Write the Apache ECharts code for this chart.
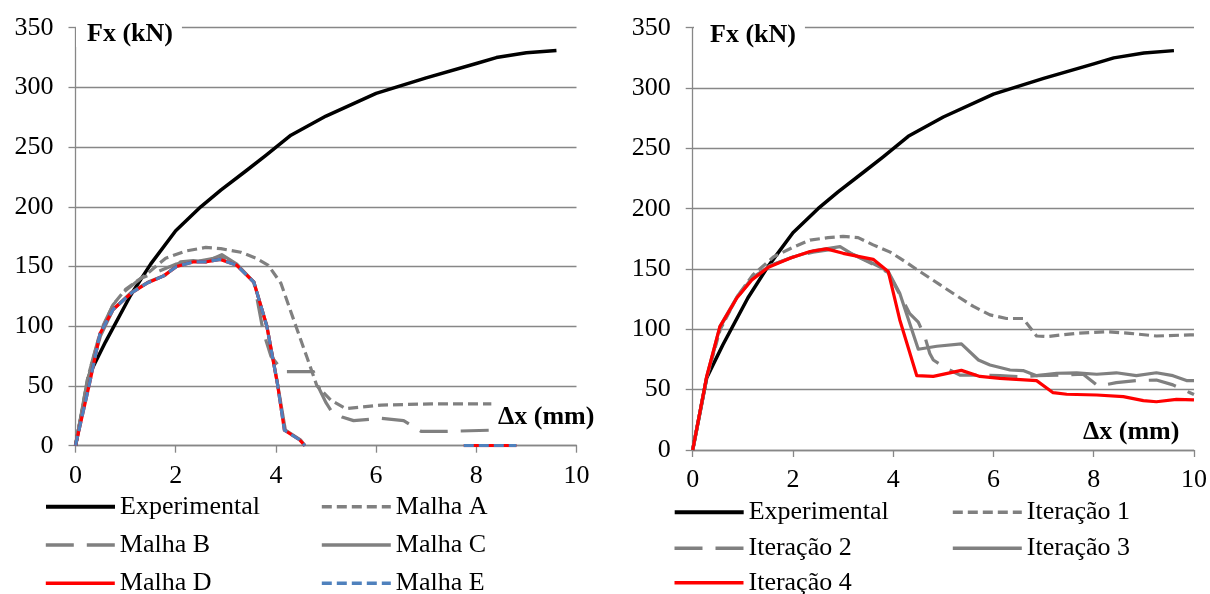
<!DOCTYPE html>
<html>
<head>
<meta charset="utf-8">
<style>html,body{margin:0;padding:0;background:#fff}#c{width:1210px;height:594px}</style>
<script src="https://cdn.jsdelivr.net/npm/echarts@6/dist/echarts.min.js"></script>
</head>
<body>
<div id="c"></div>
<script>
// ---- data ----
const xTicks = [0, 2, 4, 6, 8, 10];
const yTicks = [0, 50, 100, 150, 200, 250, 300, 350];

const expX = [0, 0.28, 0.6, 1.1, 1.5, 2.0, 2.5, 2.9, 3.4, 3.8, 4.3, 5.0, 6.0, 7.0, 8.0, 8.4, 9.0, 9.6];
const expY = [0, 60, 87, 126, 152, 180, 200, 214, 230, 243, 260, 276, 295, 308, 320, 325, 329, 331];

const malhaAX = [0, 0.25, 0.5, 0.75, 1.0, 1.4, 1.8, 2.2, 2.6, 2.9, 3.3, 3.6, 3.85, 4.1, 4.4, 4.62, 4.82, 5.1, 5.4, 6.1, 7.1, 8.3];
const malhaAY = [0, 58, 95, 118, 131, 143, 157, 163, 166, 165, 162, 157, 151, 136, 100, 74, 50, 38, 31, 34, 35, 35];

const malhaBX = [0, 0.25, 0.5, 0.75, 1.0, 1.3, 1.6, 2.0, 2.4, 2.9, 3.2, 3.56, 3.75, 3.9, 4.15, 4.75, 4.85, 5.0, 5.12, 5.32, 5.55, 6.1, 6.55, 6.9, 7.4, 8.3];
const malhaBY = [0, 58, 96, 118, 130, 140, 145, 152, 154, 158, 152, 137, 95, 75, 62, 62, 49, 36, 28, 24, 21, 23, 21, 12, 12, 13];

const malhaCX = [0, 0.25, 0.5, 0.75, 1.1, 1.45, 1.8, 2.1, 2.35, 2.6, 2.92, 3.22, 3.56, 3.82, 4.02, 4.19, 4.49, 4.58];
const malhaCY = [0, 56, 92, 114, 128, 137, 143, 154, 155, 154, 160, 152, 137, 100, 55, 13, 5, 0];

const malhaDX = [0, 0.29, 0.49, 0.75, 1.12, 1.42, 1.75, 2.02, 2.36, 2.62, 2.89, 3.22, 3.56, 3.82, 4.03, 4.17, 4.47, 4.58, 6.0, 7.75, 8.8];
const malhaDY = [0, 54, 94, 114, 128, 136, 142, 150, 154, 154, 156, 151, 137, 100, 52, 13, 5, 0, null, 0, 0];

const malhaEX = [0, 0.29, 0.49, 0.75, 1.12, 1.42, 1.75, 2.02, 2.36, 2.62, 2.89, 3.22, 3.56, 3.82, 4.03, 4.17, 4.47, 4.58, 6.0, 7.75, 8.8];
const malhaEY = [0, 54, 94, 114, 128, 136, 142, 150, 154, 154, 156, 151, 137, 100, 52, 13, 5, 0, null, 0, 0];

const iter1X = [0, 0.28, 0.55, 0.9, 1.2, 1.61, 2.0, 2.34, 2.7, 3.0, 3.3, 3.6, 3.94, 4.13, 4.53, 4.93, 5.26, 5.6, 5.93, 6.26, 6.59, 6.86, 7.06, 7.66, 8.25, 8.72, 9.25, 9.92, 10];
const iter1Y = [0, 60, 100, 128, 145, 160, 168, 174, 176, 177, 176, 170, 164, 159, 148, 137, 128, 119, 112, 109, 109, 94.5, 94, 96.7, 98, 96.7, 94.5, 95.4, 95.4];

const iter2X = [0, 0.28, 0.55, 0.9, 1.2, 1.55, 2.0, 2.4, 2.9, 3.2, 3.55, 3.9, 4.33, 4.5, 4.63, 4.73, 4.8, 5.06, 5.33, 5.66, 6.13, 6.53, 6.86, 7.32, 7.79, 8.09, 8.45, 8.85, 9.25, 9.58, 9.92, 10];
const iter2Y = [0, 60, 102, 127, 143, 153, 160, 164, 167, 162, 155, 147, 113, 106, 94, 80, 74.6, 67.7, 62, 62, 61.6, 60.8, 61.6, 62, 62.8, 53, 55.8, 57.5, 58, 54, 47.5, 46];

const iter3X = [0, 0.28, 0.55, 0.9, 1.2, 1.55, 2.0, 2.4, 2.94, 3.2, 3.53, 3.9, 4.13, 4.5, 4.87, 5.36, 5.7, 5.93, 6.33, 6.59, 6.86, 7.26, 7.66, 8.06, 8.45, 8.85, 9.25, 9.58, 9.85, 10];
const iter3Y = [0, 61, 103, 128, 143, 153, 160, 165, 168.6, 162, 156, 148, 130, 83.5, 86, 88, 74.6, 70.5, 66.3, 65.8, 61.6, 63.6, 64, 62.8, 64, 61.6, 64, 61.6, 57.5, 57.5];

const iter4X = [0, 0.28, 0.54, 0.88, 1.18, 1.51, 1.94, 2.34, 2.67, 3.0, 3.6, 3.9, 4.13, 4.47, 4.8, 5.36, 5.73, 6.13, 6.86, 7.19, 7.46, 8.06, 8.59, 8.99, 9.25, 9.65, 10];
const iter4Y = [0, 61, 102, 126, 141, 151.5, 159, 164.5, 166.7, 163, 158, 148, 108, 61.6, 61, 66, 61, 59.4, 57.5, 47.5, 46.2, 45.6, 44.2, 40.9, 40, 42, 41.5];

// ---- build ----
const zip = (xs, ys) => xs.map((x, i) => [x, ys[i] === null ? '-' : ys[i]]);
const FONT = "'Liberation Serif', 'Times New Roman', serif";
const GRAY = '#878787';
const LINEGRAY = '#808080';

function mkX(gi) {
  return {
    type: 'value', gridIndex: gi, min: xTicks[0], max: xTicks[xTicks.length - 1],
    interval: xTicks[1] - xTicks[0],
    axisLine: { show: true, lineStyle: { color: GRAY, width: 1.3 } },
    axisTick: { show: true, inside: false, length: 7, lineStyle: { color: GRAY, width: 1.3 } },
    splitLine: { show: false },
    axisLabel: { color: '#000', fontFamily: FONT, fontSize: 26, margin: 17 }
  };
}
function mkY(gi) {
  return {
    type: 'value', gridIndex: gi, min: yTicks[0], max: yTicks[yTicks.length - 1],
    interval: yTicks[1] - yTicks[0],
    axisLine: { show: true, lineStyle: { color: GRAY, width: 1.3 } },
    axisTick: { show: true, inside: false, length: 7, lineStyle: { color: GRAY, width: 1.3 } },
    splitLine: { show: true, lineStyle: { color: GRAY, width: 1.3 } },
    axisLabel: { color: '#000', fontFamily: FONT, fontSize: 26, margin: 22 }
  };
}
function ser(name, gi, data, color, type, width) {
  return {
    name, type: 'line', xAxisIndex: gi, yAxisIndex: gi, data,
    symbol: 'none', showSymbol: false, connectNulls: false, silent: true,
    lineStyle: { color, width: width || 3.2, type: type || 'solid', join: 'round', cap: 'butt' },
    itemStyle: { color }
  };
}
// one legend component per entry so each sits at its own spot
function lg(name, left, cy, w) {
  return {
    data: [name], orient: 'horizontal', left, top: cy - 13, height: 40, width: 300,
    itemWidth: 69, itemHeight: 14, selectedMode: false, padding: 0,
    itemStyle: { color: 'rgba(0,0,0,0)', borderColor: 'rgba(0,0,0,0)', borderWidth: 0 },
    lineStyle: { width: w || 3.6 },
    textStyle: { color: '#000', fontFamily: FONT, fontSize: 26, lineHeight: 26 }
  };
}

const option = {
  animation: false,
  backgroundColor: '#fff',
  grid: [
    { left: 75.5, top: 27.7, width: 501, height: 418 },
    { left: 692.7, top: 27.7, width: 501.5, height: 422.3 }
  ],
  xAxis: [mkX(0), mkX(1)],
  yAxis: [mkY(0), mkY(1)],
  legend: [
    lg('Experimental', 44, 506.7, 4),
    lg('Malha B', 44, 545),
    lg('Malha D', 44, 583.3),
    lg('Malha A', 320, 506.7),
    lg('Malha C', 320, 545),
    lg('Malha E', 320, 583.3),
    lg('Experimental', 672.7, 512.3, 4),
    lg('Iteração 2', 672.7, 548.3),
    lg('Iteração 4', 672.7, 582.7),
    lg('Iteração 1', 951, 512.3),
    lg('Iteração 3', 951, 548.3)
  ],
  series: [
    ser('Experimental', 0, zip(expX, expY), '#000', 'solid', 3.5),
    ser('Malha A', 0, zip(malhaAX, malhaAY), LINEGRAY, [10, 5]),
    ser('Malha B', 0, zip(malhaBX, malhaBY), LINEGRAY, [28, 13]),
    ser('Malha C', 0, zip(malhaCX, malhaCY), LINEGRAY, 'solid'),
    ser('Malha D', 0, zip(malhaDX, malhaDY), '#ff0000', 'solid'),
    ser('Malha E', 0, zip(malhaEX, malhaEY), '#4f81bd', [10, 5]),
    ser('Experimental', 1, zip(expX, expY), '#000', 'solid', 3.5),
    ser('Iteração 1', 1, zip(iter1X, iter1Y), LINEGRAY, [10, 5]),
    ser('Iteração 2', 1, zip(iter2X, iter2Y), LINEGRAY, [28, 13]),
    ser('Iteração 3', 1, zip(iter3X, iter3Y), LINEGRAY, 'solid'),
    ser('Iteração 4', 1, zip(iter4X, iter4Y), '#ff0000', 'solid')
  ],
  graphic: [
    { type: 'text', z: 100, left: 76, top: 21, style: { text: 'Fx (kN)', fontFamily: FONT, fontSize: 26, fontWeight: 'bold', fill: '#000', backgroundColor: '#fff', padding: [0, 9, 0, 11] } },
    { type: 'text', z: 100, left: 694, top: 22, style: { text: 'Fx (kN)', fontFamily: FONT, fontSize: 26, fontWeight: 'bold', fill: '#000', backgroundColor: '#fff', padding: [0, 9, 0, 16] } },
    { type: 'text', z: 100, left: 498, top: 404, style: { text: 'Δx (mm)', fontFamily: FONT, fontSize: 26, fontWeight: 'bold', fill: '#000' } },
    { type: 'text', z: 100, left: 1083, top: 419, style: { text: 'Δx (mm)', fontFamily: FONT, fontSize: 26, fontWeight: 'bold', fill: '#000' } }
  ]
};
const chart = echarts.init(document.getElementById('c'), null, { renderer: 'canvas' });
chart.setOption(option);
</script>
</body>
</html>
